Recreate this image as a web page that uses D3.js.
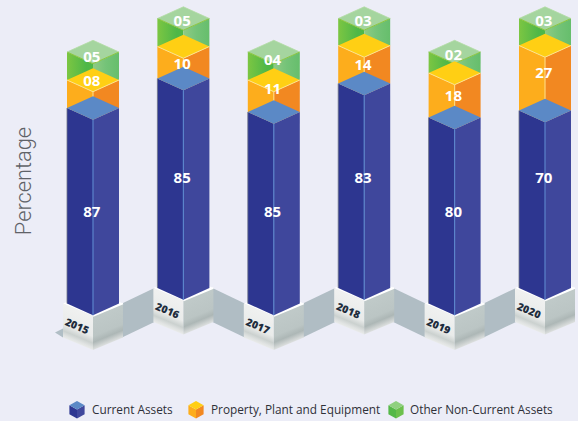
<!DOCTYPE html>
<html>
<head>
<meta charset="utf-8">
<script src="https://cdn.jsdelivr.net/npm/d3@7"></script>
<style>
  html, body { margin: 0; padding: 0; background: #ecedf7; }
  svg { display: block; }
</style>
</head>
<body>
<div id="chart"></div>
<script>
// Asset mix by year, in percent of total assets
const years = ["2015", "2016", "2017", "2018", "2019", "2020"];
const currentAssets = [87, 85, 85, 83, 80, 70];
const propertyPlant = [8, 10, 11, 14, 18, 27];
const otherNonCurrent = [5, 5, 4, 3, 2, 3];
const seriesNames = ["Current Assets", "Property, Plant and Equipment", "Other Non-Current Assets"];

const width = 578, height = 421;
const svg = d3.select("#chart").append("svg").attr("width", width).attr("height", height);
const defs = svg.append("defs");

// Isometric column geometry
const barHalf = 26, capDy = 11.7;
const plinthHalf = 30, plinthDy = 12.5, plinthHeight = 34;

const x = d3.scalePoint().domain(years).range([93, 545]);

// The columns stand in two staggered rows
const rows = [{ top: 52, base: 303.5 }, { top: 18.5, base: 288 }];

// Cumulative percent to pixels below the column top: small shares are given
// extra room so that their labels fit, the long stretch below stays linear.
const cumulativeStops = [100, 98, 97, 96, 95, 87, 85, 83, 80, 70, 0];
const offsetStops = [0, 21, 27, 28, 28, 56, 60, 65, 65.5, 92];
const yForRow = row => d3.scaleLinear()
  .domain(cumulativeStops)
  .range(offsetStops.map(d => row.top + d).concat(row.base));
const rowScales = rows.map(yForRow);

// Optical label shifts per column
const greenNudge = [5, 2.5, 8, 2.5, 3, 2.5];
const orangeNudge = [-13, 1, -7, 0.5, 0, -5];
const blueLabelY = [212, 178];

const poly = pts => d3.line()(pts) + "Z";

function gradient(id, attrs, stops) {
  const g = defs.append("linearGradient").attr("id", id);
  Object.entries(attrs).forEach(([k, v]) => g.attr(k, v));
  stops.forEach(([o, c]) => g.append("stop").attr("offset", o).attr("stop-color", c));
}
gradient("plinthLeft", { x1: 0, y1: 0, x2: 0, y2: 1 },
  [[0, "#f0f1f0"], [0.6, "#e9ebea"], [0.8, "#cbd1cf"], [0.92, "#dfe2e1"], [1, "#e9ebea"]]);
gradient("plinthRight", { x1: 0, y1: 0, x2: 0, y2: 1 },
  [[0, "#c0cac9"], [0.6, "#bbc5c4"], [0.78, "#adb7b6"], [0.92, "#ccd1d0"], [1, "#dde0df"]]);
gradient("greenLeft", { x1: 0, y1: 0, x2: 1, y2: 0 }, [[0, "#7cc642"], [0.75, "#4eb748"], [1, "#4fb848"]]);
gradient("greenRight", { x1: 0, y1: 0, x2: 1, y2: 0 }, [[0, "#8fcb84"], [0.5, "#74c378"], [1, "#66be6c"]]);

const palette = [
  { left: "#2d3690", right: "#3f479c", cap: "#5b89c6", seam: "#5b84cb", rim: null },
  { left: "#fdad1c", right: "#f28821", cap: "#ffcf14", seam: "#ffd87c", rim: "#ffe38f" },
  { left: "url(#greenLeft)", right: "url(#greenRight)", cap: "#a5d59f", seam: null, rim: "#8cc63f" }
];

const slope = Math.atan2(plinthDy, plinthHalf) * 180 / Math.PI;
const rowOf = i => rows[i % 2];

// Grey walls that join neighbouring plinths
const walls = svg.append("g");
walls.append("path")
  .attr("d", poly([[x(years[0]) - plinthHalf, rows[0].base + 25], [x(years[0]) - 38, rows[0].base + 29],
                   [x(years[0]) - plinthHalf, rows[0].base + plinthHeight]]))
  .attr("fill", "#b0bec5");
d3.pairs(years.map((y, i) => ({ cx: x(y), row: rowOf(i) }))).forEach(([a, b]) => {
  walls.append("path")
    .attr("d", poly([
      [a.cx + plinthHalf - 1, a.row.base],
      [b.cx - plinthHalf + 1, b.row.base],
      [b.cx - plinthHalf + 1, b.row.base + plinthHeight],
      [a.cx + plinthHalf - 1, a.row.base + plinthHeight]
    ]))
    .attr("fill", "#b0bdc4");
});

// Plinths with the year on the left face
const plinths = svg.append("g").selectAll("g").data(years).join("g");
plinths.each(function (year, i) {
  const g = d3.select(this), cx = x(year), side = rowOf(i).base;
  g.append("path")
    .attr("d", poly([[cx - plinthHalf, side], [cx, side - plinthDy], [cx + plinthHalf, side], [cx, side + plinthDy]]))
    .attr("fill", "#ffffff");
  g.append("rect")
    .attr("width", plinthHalf).attr("height", plinthHeight)
    .attr("transform", `translate(${cx - plinthHalf},${side}) skewY(${slope})`)
    .attr("fill", "url(#plinthLeft)");
  g.append("rect")
    .attr("width", plinthHalf).attr("height", plinthHeight)
    .attr("transform", `translate(${cx},${side + plinthDy}) skewY(${-slope})`)
    .attr("fill", "url(#plinthRight)");
  g.append("path")
    .attr("d", d3.line()([[cx, side + plinthDy], [cx + plinthHalf, side]]))
    .attr("stroke", "#ffffff").attr("stroke-width", 1.6).attr("fill", "none");
  g.append("text")
    .attr("transform", `translate(${cx - 16},${side + 22.5}) rotate(23)`)
    .attr("text-anchor", "middle").attr("dy", "0.36em")
    .attr("font-family", "'Open Sans', sans-serif").attr("font-weight", 800)
    .attr("font-size", 10.5).attr("fill", "#1f2d3d")
    .text(year);
});

// One isometric block, from cumulative value `from` up to `to`
function block(g, cx, y, from, to, colors) {
  const L = cx - barHalf, R = cx + barHalf;
  const t = y(to), b = y(from);
  g.append("path").attr("d", poly([[L, t], [cx, t + capDy], [cx, b + capDy], [L, b]])).attr("fill", colors.left);
  g.append("path").attr("d", poly([[cx, t + capDy], [R, t], [R, b], [cx, b + capDy]])).attr("fill", colors.right);
  if (colors.seam) {
    g.append("path").attr("d", d3.line()([[cx, t + capDy], [cx, b + capDy]]))
      .attr("stroke", colors.seam).attr("stroke-width", 1.2);
  }
  g.append("path").attr("d", poly([[L, t], [cx, t - capDy], [R, t], [cx, t + capDy]])).attr("fill", colors.cap);
  if (colors.rim) {
    g.append("path").attr("d", d3.line()([[L, t], [cx, t + capDy], [R, t]]))
      .attr("stroke", colors.rim).attr("stroke-width", 1).attr("fill", "none");
  }
}

// Columns are painted from the top block down, each cap lying over the block above
const columns = svg.append("g").selectAll("g").data(years).join("g");
columns.each(function (year, i) {
  const g = d3.select(this), cx = x(year), y = rowScales[i % 2];
  const a = currentAssets[i], b = a + propertyPlant[i], c = b + otherNonCurrent[i];
  const green = g.append("g");
  block(green, cx, y, b, c, palette[2]);
  green.append("path")
    .attr("d", d3.line()([[cx - barHalf, y(c)], [cx, y(c) - capDy], [cx + barHalf, y(c)]]))
    .attr("stroke", "#b4dca6").attr("stroke-width", 0.8).attr("fill", "none");
  block(g.append("g"), cx, y, a, b, palette[1]);
  block(g.append("g"), cx, y, 0, a, palette[0]);
  g.append("path").attr("d", d3.line()([[cx - barHalf, y(a)], [cx - barHalf, y(0)]]))
    .attr("stroke", "#6f7488").attr("stroke-width", 0.8);

  const label = (value, ly) => g.append("text")
    .attr("x", cx - 1.2).attr("y", ly).attr("dy", "0.36em")
    .attr("text-anchor", "middle")
    .attr("font-family", "'Open Sans', sans-serif").attr("font-weight", 700)
    .attr("font-size", 15).attr("fill", "#ffffff")
    .text(d3.format("02")(value));
  label(currentAssets[i], blueLabelY[i % 2]);
  label(propertyPlant[i], (y(a) + y(b)) / 2 + orangeNudge[i]);
  label(otherNonCurrent[i], y(c) + greenNudge[i]);
});

// Axis title
svg.append("text")
  .attr("transform", "translate(30.5,181) rotate(-90)")
  .attr("text-anchor", "middle")
  .attr("font-family", "Roboto, sans-serif").attr("font-weight", 300)
  .attr("font-size", 21.8).attr("fill", "#5f6268")
  .text("Percentage");

// Legend
const legendCube = [77, 196, 396];
const legendText = [92, 211, 410];
const cubeColors = [
  { left: "#2e3792", right: "#40489d", cap: "#5b89c6" },
  { left: "#fdad1c", right: "#f28821", cap: "#ffcf14" },
  { left: "#55b848", right: "#6cc04c", cap: "#8fd07f" }
];
const legend = svg.append("g").selectAll("g").data(seriesNames).join("g");
legend.each(function (name, i) {
  const g = d3.select(this), cx = legendCube[i], hw = 7.6;
  const side = 405.2, dy = 4.2, tall = 9;
  const c = cubeColors[i];
  g.append("path").attr("d", poly([[cx - hw, side], [cx, side + dy], [cx, side + dy + tall], [cx - hw, side + tall]])).attr("fill", c.left);
  g.append("path").attr("d", poly([[cx, side + dy], [cx + hw, side], [cx + hw, side + tall], [cx, side + dy + tall]])).attr("fill", c.right);
  g.append("path").attr("d", poly([[cx - hw, side], [cx, side - dy], [cx + hw, side], [cx, side + dy]])).attr("fill", c.cap);
  g.append("text")
    .attr("x", legendText[i]).attr("y", 410).attr("dy", "0.36em")
    .attr("font-family", "'Open Sans', sans-serif").attr("font-size", 11.8).attr("fill", "#2f3038")
    .text(name);
});
</script>
</body>
</html>
